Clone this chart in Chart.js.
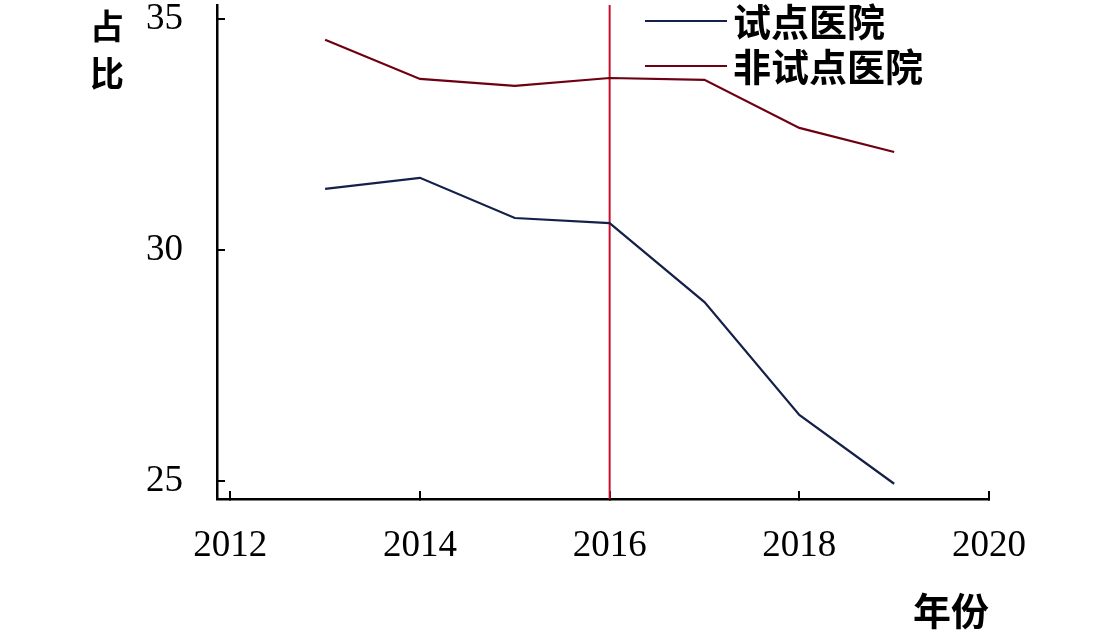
<!DOCTYPE html>
<html>
<head>
<meta charset="utf-8">
<script src="https://cdn.jsdelivr.net/npm/chart.js@4.4.1/dist/chart.umd.min.js"></script>
<style>
    html, body { margin: 0; padding: 0; background: #fff; }
    #wrap { width: 1102px; height: 630px; }
</style>
</head>
<body>
<div id="wrap"><canvas id="chart" width="1102" height="630"></canvas></div>
<script>
const years = [2013, 2014, 2015, 2016, 2017, 2018, 2019];
const pilotShare = [31.32, 31.56, 30.69, 30.58, 28.87, 26.43, 24.94];
const nonPilotShare = [34.55, 33.70, 33.55, 33.72, 33.68, 32.64, 32.12];
const seriesNames = ["试点医院", "非试点医院"];
const xTicks = [2012, 2014, 2016, 2018, 2020];
const yTicks = [25, 30, 35];
const policyYear = 2016;
const xTitle = "年份";
const yTitle = ["占", "比"];

const pilotColor = "#14204a";
const nonPilotColor = "#6e0012";
const policyColor = "#c8102e";
const cjkFont = "'Noto Sans CJK SC', 'Noto Sans', sans-serif";
const tickFont = { family: "'Liberation Serif', 'DejaVu Serif', serif", size: 37 };

// vertical policy line, axis titles and the legend
const extras = {
    id: "extras",
    beforeDatasetsDraw(chart) {
        const ctx = chart.ctx;
        const area = chart.chartArea;
        const x = chart.scales.x.getPixelForValue(policyYear);
        ctx.save();
        ctx.strokeStyle = policyColor;
        ctx.lineWidth = 2;
        ctx.beginPath();
        ctx.moveTo(x, area.top);
        ctx.lineTo(x, area.bottom);
        ctx.stroke();
        ctx.restore();
    },
    afterDraw(chart) {
        const ctx = chart.ctx;
        ctx.save();
        ctx.fillStyle = "#000";
        ctx.textBaseline = "middle";

        // y title, stacked characters
        ctx.font = "bold 34px " + cjkFont;
        ctx.textAlign = "center";
        yTitle.forEach((ch, i) => ctx.fillText(ch, 107, 26 + i * 47));

        // x title
        ctx.font = "bold 38px " + cjkFont;
        ctx.textAlign = "right";
        ctx.fillText(xTitle, 989, 611);

        // legend
        ctx.textAlign = "left";
        chart.data.datasets.forEach((ds, i) => {
            const y = 21 + i * 45;
            ctx.strokeStyle = ds.borderColor;
            ctx.lineWidth = 2.2;
            ctx.beginPath();
            ctx.moveTo(645, y);
            ctx.lineTo(727, y);
            ctx.stroke();
            ctx.fillText(ds.label, 733, y + 1);
        });
        ctx.restore();
    }
};

const ctx = document.getElementById("chart").getContext("2d");
const chart = new Chart(ctx, {
    type: "line",
    data: {
        datasets: [
            {
                label: seriesNames[0],
                data: years.map((y, i) => ({ x: y, y: pilotShare[i] })),
                borderColor: pilotColor,
                borderWidth: 2.2,
                pointRadius: 0,
                tension: 0
            },
            {
                label: seriesNames[1],
                data: years.map((y, i) => ({ x: y, y: nonPilotShare[i] })),
                borderColor: nonPilotColor,
                borderWidth: 2.2,
                pointRadius: 0,
                tension: 0
            }
        ]
    },
    options: {
        responsive: false,
        animation: false,
        layout: { padding: { left: 0, right: 113, top: 5, bottom: 0 } },
        plugins: {
            legend: { display: false },
            tooltip: { enabled: false }
        },
        scales: {
            x: {
                type: "linear",
                min: 2011.86,
                max: 2020,
                afterBuildTicks: s => { s.ticks = xTicks.map(v => ({ value: v })); },
                afterFit: s => { s.height = 131; s.paddingLeft = 0; s.paddingRight = 0; },
                grid: { drawOnChartArea: false, drawTicks: true, tickLength: -8, color: "#000", lineWidth: 2 },
                border: { display: true, color: "#000", width: 2.5 },
                ticks: { font: tickFont, color: "#000", padding: 33, maxRotation: 0, autoSkip: false,
                    callback: v => String(v) }
            },
            y: {
                min: 24.61,
                max: 35.3,
                afterBuildTicks: s => { s.ticks = yTicks.map(v => ({ value: v })); },
                afterFit: s => { s.width = 217; s.paddingTop = 0; s.paddingBottom = 0; },
                grid: { drawOnChartArea: false, drawTicks: true, tickLength: -8, color: "#000", lineWidth: 2 },
                border: { display: true, color: "#000", width: 2.5 },
                ticks: { font: tickFont, color: "#000", padding: 42, autoSkip: false,
                    callback: v => String(v) }
            }
        }
    },
    plugins: [extras]
});
</script>
</body>
</html>
